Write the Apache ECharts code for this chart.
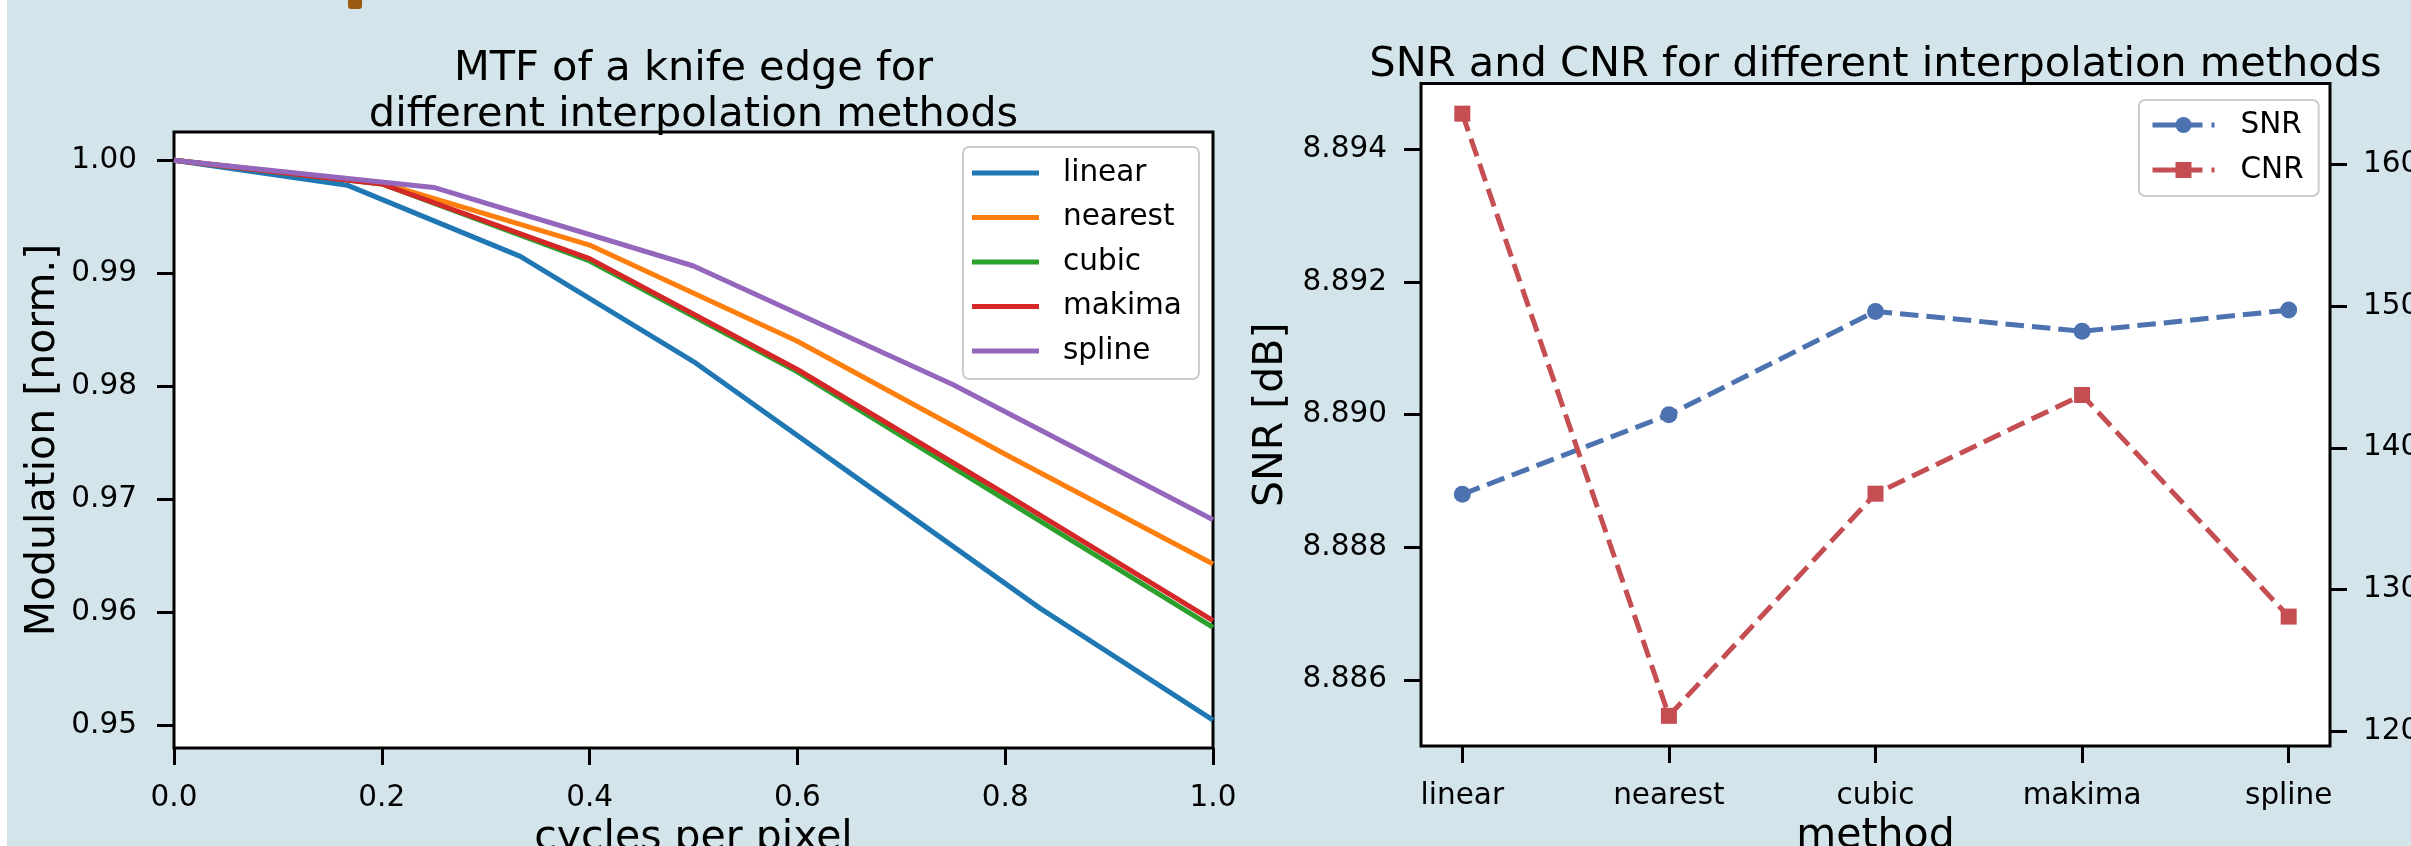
<!DOCTYPE html>
<html>
<head>
<meta charset="utf-8">
<title>MTF and SNR/CNR per interpolation method</title>
<script src="https://cdn.jsdelivr.net/npm/echarts@6/dist/echarts.min.js"></script>
<style>
  html, body { margin: 0; padding: 0; background: #d3e5eb; }
  #chart { width: 2411px; height: 846px; }
</style>
</head>
<body>
<div id="chart"></div>
<script>
// MTF of the knife edge, every method has its own sampling of the frequency axis
var linearX = [0, 1 / 6, 2 / 6, 3 / 6, 4 / 6, 5 / 6, 1];
var linearY = [1.0, 0.9978, 0.9915, 0.9822, 0.9713, 0.9604, 0.9505];
var nearestX = [0, 0.2, 0.4, 0.6, 0.8, 1.0];
var nearestY = [1.0, 0.9980, 0.9925, 0.9840, 0.9740, 0.9643];
var cubicX = [0, 0.2, 0.4, 0.6, 0.8, 1.0];
var cubicY = [1.0, 0.9979, 0.9911, 0.9813, 0.9700, 0.9587];
var makimaX = [0, 0.2, 0.4, 0.6, 0.8, 1.0];
var makimaY = [1.0, 0.9979, 0.9913, 0.9815, 0.9705, 0.9593];
var splineX = [0, 0.25, 0.5, 0.75, 1.0];
var splineY = [1.0, 0.9976, 0.99065, 0.98015, 0.96822];

// SNR / CNR per method
var methods = ['linear', 'nearest', 'cubic', 'makima', 'spline'];
var snr = [8.8888, 8.8900, 8.89156, 8.89126, 8.89158];
var cnr = [163.6, 121.07, 136.76, 143.73, 128.08];

// tick values
var mtfXTicks = [0, 0.2, 0.4, 0.6, 0.8, 1.0];
var mtfYTicks = [0.95, 0.96, 0.97, 0.98, 0.99, 1.00];
var methodTicks = [0, 1, 2, 3, 4];
var snrTicks = [8.886, 8.888, 8.890, 8.892, 8.894];
var cnrTicks = [120, 130, 140, 150, 160];

var FONT = 'DejaVu Sans';
var INK = '#000';

function zip(xs, ys) {
  return xs.map(function (x, i) { return [x, ys[i]] })
}

function axisBase(extra) {
  var base = {
    type: 'value',
    axisLine: { show: false, onZero: false },
    splitLine: { show: false },
    axisTick: { show: true, inside: false, length: 17, lineStyle: { color: INK, width: 3 } },
    axisLabel: { fontFamily: FONT, fontSize: 29.5, color: INK },
    nameLocation: 'middle',
    nameTextStyle: { fontFamily: FONT, fontSize: 41, color: INK }
  };
  for (var k in extra) {
    if (typeof extra[k] === 'object' && base[k] && !Array.isArray(extra[k])) {
      base[k] = Object.assign({}, base[k], extra[k]);
    } else {
      base[k] = extra[k];
    }
  }
  return base
}

var mtfColors = ['#1f77b4', '#ff7f0e', '#2ca02c', '#d62728', '#9467bd'];
var mtfData = [
  zip(linearX, linearY),
  zip(nearestX, nearestY),
  zip(cubicX, cubicY),
  zip(makimaX, makimaY),
  zip(splineX, splineY)
];

var series = methods.map(function (name, i) {
  return {
    name: name,
    type: 'line',
    xAxisIndex: 0,
    yAxisIndex: 0,
    data: mtfData[i],
    symbol: 'none',
    lineStyle: { color: mtfColors[i], width: 5 },
    itemStyle: { color: mtfColors[i] }
  }
});

series.push({
  name: 'SNR',
  type: 'line',
  xAxisIndex: 1,
  yAxisIndex: 1,
  data: methodTicks.map(function (i) { return [i, snr[i]] }),
  symbol: 'circle',
  symbolSize: 17,
  lineStyle: { color: '#4c72b0', width: 5, type: [18.5, 8] },
  itemStyle: { color: '#4c72b0' }
});
series.push({
  name: 'CNR',
  type: 'line',
  xAxisIndex: 1,
  yAxisIndex: 2,
  data: methodTicks.map(function (i) { return [i, cnr[i]] }),
  symbol: 'rect',
  symbolSize: 16,
  lineStyle: { color: '#c44e52', width: 5, type: [18.5, 8] },
  itemStyle: { color: '#c44e52' }
});

var chart = echarts.init(document.getElementById('chart'));
chart.setOption({
  backgroundColor: '#d3e5eb',
  animation: false,
  textStyle: { fontFamily: FONT },
  graphic: [
    { type: 'rect', shape: { x: 0, y: 0, width: 7, height: 846 }, style: { fill: '#fff' } },
    { type: 'rect', shape: { x: 348, y: -5, width: 14, height: 14, r: 3 }, style: { fill: '#9b5912' } },
    {
      type: 'text', x: 693.5, y: 47,
      style: {
        text: 'MTF of a knife edge for\ndifferent interpolation methods',
        fill: INK, fontFamily: FONT, fontSize: 41.5, lineHeight: 45.3,
        align: 'center', verticalAlign: 'top'
      }
    },
    {
      type: 'text', x: 1875.5, y: 43,
      style: {
        text: 'SNR and CNR for different interpolation methods',
        fill: INK, fontFamily: FONT, fontSize: 41.5, lineHeight: 45.3,
        align: 'center', verticalAlign: 'top'
      }
    }
  ],
  grid: [
    { left: 174, top: 132, width: 1039, height: 616, outerBoundsMode: 'none', show: true, backgroundColor: '#fff', borderColor: INK, borderWidth: 3 },
    { left: 1421, top: 83.5, width: 909, height: 662.5, outerBoundsMode: 'none', show: true, backgroundColor: '#fff', borderColor: INK, borderWidth: 3 }
  ],
  xAxis: [
    axisBase({
      gridIndex: 0, min: 0, max: 1,
      axisTick: { customValues: mtfXTicks },
      axisLabel: { customValues: mtfXTicks, margin: 35, formatter: function (v) { return v.toFixed(1) } },
      name: 'cycles per pixel', nameGap: 63
    }),
    axisBase({
      gridIndex: 1, min: -0.2, max: 4.2,
      axisTick: { customValues: methodTicks },
      axisLabel: { customValues: methodTicks, margin: 35, formatter: function (v) { return methods[Math.round(v)] } },
      name: 'method', nameGap: 63
    })
  ],
  yAxis: [
    axisBase({
      gridIndex: 0, min: 0.94803, max: 1.0025,
      axisTick: { customValues: mtfYTicks },
      axisLabel: { customValues: mtfYTicks, margin: 37, formatter: function (v) { return v.toFixed(2) } },
      name: 'Modulation [norm.]', nameGap: 110, nameRotate: 90
    }),
    axisBase({
      gridIndex: 1, min: 8.885, max: 8.895,
      axisTick: { customValues: snrTicks },
      axisLabel: { customValues: snrTicks, margin: 34, formatter: function (v) { return v.toFixed(3) } },
      name: 'SNR [dB]', nameGap: 129, nameRotate: 90
    }),
    axisBase({
      gridIndex: 1, position: 'right', min: 118.94, max: 165.73,
      axisTick: { customValues: cnrTicks },
      axisLabel: { customValues: cnrTicks, margin: 33, formatter: function (v) { return String(Math.round(v)) } }
    })
  ],
  legend: [
    {
      data: methods,
      orient: 'vertical',
      left: 963, top: 147,
      icon: 'rect',
      itemWidth: 67, itemHeight: 5, itemGap: 14.5,
      padding: [11, 17, 13, 9],
      backgroundColor: '#fff',
      borderColor: '#cccccc', borderWidth: 2, borderRadius: 6,
      textStyle: { fontFamily: FONT, fontSize: 29.5, color: INK, padding: [0, 0, 0, 19] }
    },
    {
      data: ['SNR', 'CNR'],
      orient: 'vertical',
      left: 2139, top: 100,
      itemWidth: 62, itemHeight: 20, itemGap: 15,
      padding: [10, 15, 11, 11],
      lineStyle: { width: 5, type: [50, 9, 3, 60] },
      backgroundColor: '#fff',
      borderColor: '#cccccc', borderWidth: 2, borderRadius: 6,
      textStyle: { fontFamily: FONT, fontSize: 29.5, color: INK, padding: [0, 0, 0, 21] }
    }
  ],
  series: series
});
</script>
</body>
</html>
